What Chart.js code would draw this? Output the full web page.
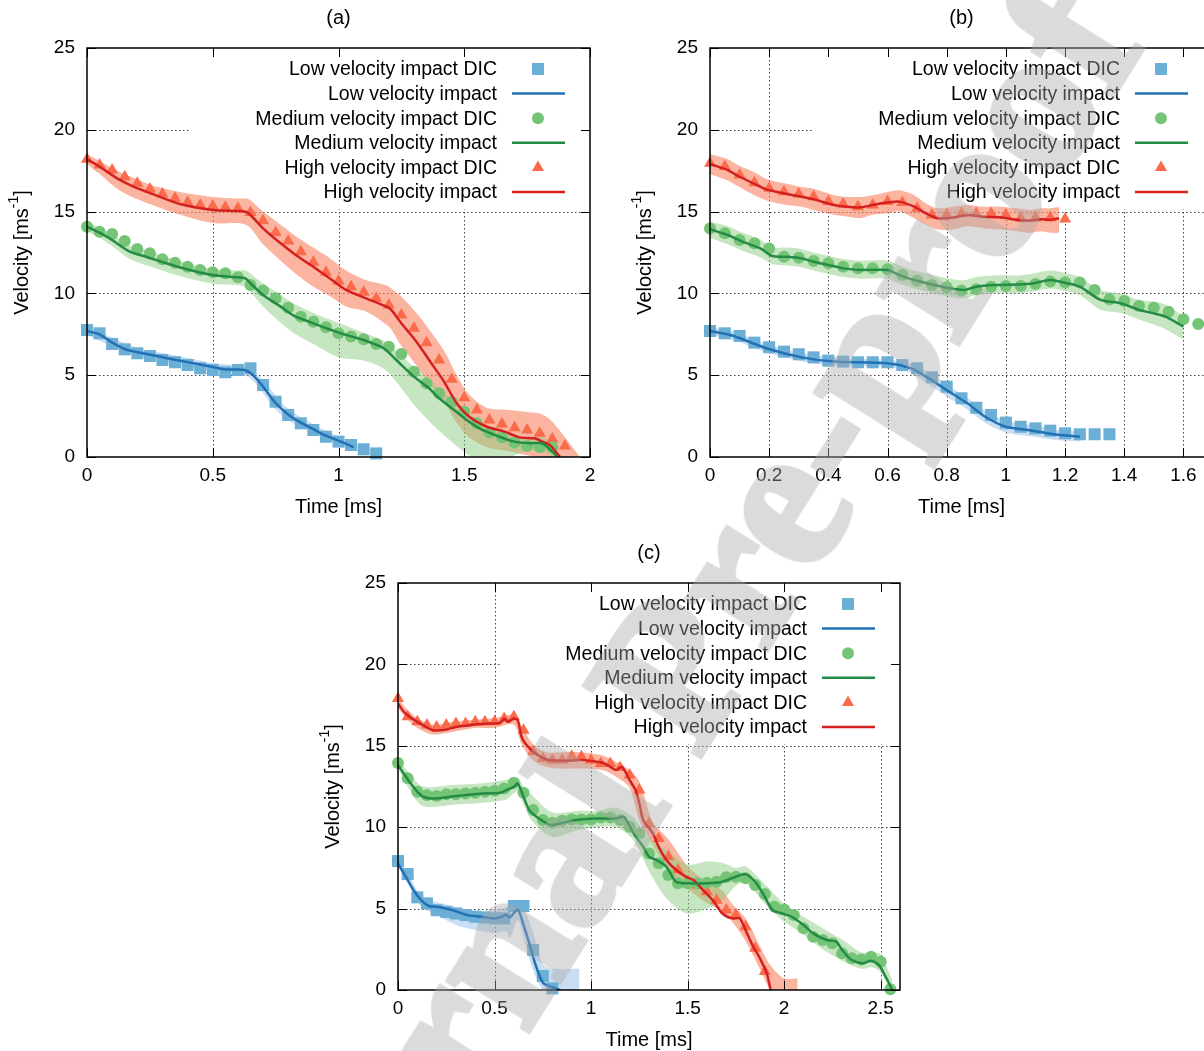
<!DOCTYPE html>
<html>
<head>
<meta charset="utf-8">
<script src="https://cdn.jsdelivr.net/npm/chart.js@4.4.1/dist/chart.umd.min.js"></script>
<style>
  html, body { margin: 0; padding: 0; background: #fff; width: 1204px; height: 1051px; overflow: hidden; }
  .panel { position: absolute; }
  #stamp {
    position: absolute; left: 669px; top: 676px;
    transform: translate(-50%, -50%) rotate(-58deg);
    font: bold 205px "Liberation Serif", "DejaVu Serif", serif;
    color: #aaa; -webkit-text-stroke: 6px #aaa; opacity: 0.42;
    white-space: nowrap; pointer-events: none;
  }
</style>
</head>
<body>
<div class="panel" style="left:0;top:0"><canvas id="chartA" width="620" height="530"></canvas></div>
<div class="panel" style="left:620px;top:0"><canvas id="chartB" width="620" height="530"></canvas></div>
<div class="panel" style="left:310px;top:535px"><canvas id="chartC" width="610" height="516"></canvas></div>
<div id="stamp">Journal Pre-proof</div>

<script>
// legend text, in key order
const seriesNames = [
  "Low velocity impact DIC", "Low velocity impact",
  "Medium velocity impact DIC", "Medium velocity impact",
  "High velocity impact DIC", "High velocity impact"
];

// ---------- panel (a) ----------
const aDicTime = [0, 0.05, 0.1, 0.15, 0.2, 0.25, 0.3, 0.35, 0.4, 0.45, 0.5, 0.55, 0.6, 0.65, 0.7, 0.75, 0.8, 0.85, 0.9, 0.95,
  1, 1.05, 1.1, 1.15, 1.2, 1.25, 1.3, 1.35, 1.4, 1.45, 1.5, 1.55, 1.6, 1.65, 1.7, 1.75, 1.8, 1.85, 1.9];
const aLowDic = [7.76, 7.56, 6.91, 6.58, 6.34, 6.17, 5.93, 5.79, 5.62, 5.42, 5.32, 5.18, 5.32, 5.42, 4.4, 3.38, 2.57, 2.06, 1.65, 1.24, 0.94, 0.73, 0.47, 0.22];
const aMedDic = [14.08, 13.77, 13.63, 13.2, 12.71, 12.45, 12.08, 11.88, 11.63, 11.43, 11.29, 11.23, 10.99, 10.51, 10.17, 9.7, 9.13, 8.58, 8.27, 7.93,
  7.56, 7.36, 7.2, 6.91, 6.74, 6.3, 5.21, 4.5, 3.89, 3.38, 2.77, 2.06, 1.49, 1.21, 0.88, 0.67, 0.59, 0.59];
const aHighDic = [18.2, 17.85, 17.54, 17.13, 16.73, 16.38, 16.08, 15.81, 15.57, 15.4, 15.34, 15.26, 15.2, 14.95, 14.44, 13.73, 13.2, 12.54, 11.9, 11.29,
  10.76, 10.41, 10.07, 9.7, 9.29, 8.68, 7.87, 6.99, 5.93, 4.75, 3.62, 2.87, 2.26, 2.02, 1.79, 1.65, 1.45, 1.1, 0.67];

const aLowT = [0, 0.05, 0.1, 0.15, 0.2, 0.3, 0.4, 0.5, 0.55, 0.6, 0.63, 0.66, 0.7, 0.75, 0.8, 0.85, 0.9, 0.95, 1.0, 1.06];
const aLowV = [7.7, 7.5, 7.0, 6.6, 6.4, 6.1, 5.8, 5.5, 5.35, 5.35, 5.3, 5.0, 4.3, 3.3, 2.6, 2.1, 1.7, 1.3, 1.0, 0.6];
const aMedT = [0, 0.05, 0.1, 0.17, 0.24, 0.36, 0.5, 0.6, 0.63, 0.65, 0.7, 0.77, 0.82, 0.9, 1.01, 1.1, 1.18, 1.23, 1.3, 1.36,
  1.4, 1.46, 1.51, 1.56, 1.64, 1.7, 1.76, 1.81, 1.85, 1.87];
const aMedV = [14.08, 13.71, 13.26, 12.55, 12.21, 11.63, 11.12, 10.98, 10.92, 10.62, 9.9, 9.19, 8.66, 8.17, 7.56, 7.15, 6.64, 5.93, 4.91, 4.2,
  3.59, 2.87, 2.26, 1.75, 1.24, 0.94, 0.84, 0.84, 0.33, 0.02];
const aHighT = [0, 0.05, 0.12, 0.18, 0.26, 0.37, 0.5, 0.6, 0.63, 0.65, 0.7, 0.77, 0.83, 0.9, 0.97, 1.03, 1.11, 1.19, 1.21, 1.25,
  1.31, 1.36, 1.42, 1.47, 1.52, 1.59, 1.66, 1.72, 1.78, 1.81, 1.84, 1.88];
const aHighV = [18.2, 17.75, 17.03, 16.56, 16.08, 15.46, 15.1, 15.04, 14.99, 14.79, 13.98, 13.06, 12.35, 11.63, 10.86, 10.21, 9.7, 9.19, 8.99, 8.17,
  7.05, 5.93, 4.6, 3.28, 2.46, 1.85, 1.55, 1.2, 1.14, 0.94, 0.73, 0.02];

// scatter bands (upper / lower edge)
const aLowBandT = [0, 0.1, 0.2, 0.3, 0.4, 0.5, 0.6, 0.65, 0.7, 0.75, 0.8, 0.9, 1.0, 1.06];
const aLowBandHi = [7.95, 7.3, 6.65, 6.35, 6.05, 5.75, 5.6, 5.4, 4.7, 3.75, 2.95, 2.0, 1.25, 0.85];
const aLowBandLo = [7.45, 6.75, 6.15, 5.85, 5.55, 5.25, 5.1, 4.8, 3.9, 2.9, 2.25, 1.45, 0.75, 0.4];
const aMedBandT = [0, 0.05, 0.1, 0.17, 0.24, 0.36, 0.5, 0.6, 0.63, 0.65, 0.7, 0.77, 0.82, 0.9, 1.0, 1.1, 1.18, 1.23, 1.3, 1.36,
  1.4, 1.46, 1.51, 1.56, 1.64, 1.7, 1.76, 1.81, 1.85, 1.87];
const aMedBandHi = [14.4, 14.0, 13.6, 12.9, 12.6, 12.0, 11.5, 11.4, 11.4, 11.2, 10.6, 9.9, 9.4, 8.8, 8.2, 7.6, 7.1, 6.5, 5.5, 4.8,
  4.2, 3.4, 2.8, 2.2, 1.6, 1.3, 1.2, 1.2, 0.8, 0.4];
const aMedBandLo = [13.8, 13.4, 12.9, 12.1, 11.7, 11.1, 10.6, 10.5, 10.4, 10.1, 9.2, 8.2, 7.6, 6.9, 6.1, 5.9, 5.4, 4.6, 3.2, 2.2,
  1.6, 0.8, 0.2, -0.3, -0.5, 0.1, 0.4, 0.4, 0.0, -0.2];
const aHighBandT = [0, 0.05, 0.12, 0.18, 0.26, 0.37, 0.5, 0.6, 0.63, 0.65, 0.7, 0.77, 0.83, 0.9, 0.97, 1.03, 1.11, 1.19, 1.21, 1.25,
  1.31, 1.36, 1.42, 1.47, 1.52, 1.59, 1.66, 1.72, 1.78, 1.81, 1.84, 1.88, 1.96];
const aHighBandHi = [18.5, 18.1, 17.5, 17.1, 16.6, 16.2, 15.9, 15.8, 15.8, 15.7, 15.0, 14.2, 13.5, 12.8, 12.1, 11.4, 10.8, 10.5, 10.3, 9.8,
  8.8, 7.8, 6.5, 5.0, 3.8, 3.0, 2.9, 2.8, 2.7, 2.6, 2.3, 1.6, 0];
const aHighBandLo = [17.9, 17.3, 16.4, 15.9, 15.4, 14.8, 14.3, 14.3, 14.2, 14.0, 13.0, 12.0, 11.2, 10.4, 9.8, 9.2, 8.9, 8.1, 7.8, 6.8,
  5.6, 4.5, 3.4, 2.1, 1.2, 0.6, 0.4, 0.2, 0, -0.2, -0.5, -0.8, -0.8];

// ---------- panel (b) ----------
const bDicTime = [0, 0.05, 0.1, 0.15, 0.2, 0.25, 0.3, 0.35, 0.4, 0.45, 0.5, 0.55, 0.6, 0.65, 0.7, 0.75, 0.8, 0.85, 0.9, 0.95,
  1, 1.05, 1.1, 1.15, 1.2, 1.25, 1.3, 1.35, 1.4, 1.45, 1.5, 1.55, 1.6, 1.65];
const bLowDic = [7.7, 7.56, 7.4, 6.99, 6.71, 6.44, 6.28, 6.09, 5.89, 5.83, 5.79, 5.79, 5.79, 5.62, 5.42, 4.87, 4.3, 3.59, 3.01, 2.57,
  2.1, 1.85, 1.75, 1.61, 1.45, 1.39, 1.39, 1.39];
const bMedDic = [13.96, 13.67, 13.26, 13.06, 12.75, 12.24, 12.18, 11.98, 11.84, 11.63, 11.53, 11.53, 11.47, 11.12, 10.78, 10.51, 10.37, 10.17, 10.25, 10.41,
  10.45, 10.45, 10.57, 10.72, 10.66, 10.66, 10.21, 9.64, 9.54, 9.23, 9.13, 8.88, 8.42, 8.13];
const bHighDic = [17.95, 17.75, 17.24, 16.77, 16.42, 16.22, 16.08, 15.91, 15.61, 15.46, 15.3, 15.4, 15.61, 15.55, 15.2, 14.79, 14.79, 14.89, 14.89, 14.89,
  14.79, 14.59, 14.63, 14.63, 14.55];

const bLowT = [0, 0.08, 0.19, 0.31, 0.42, 0.6, 0.68, 0.73, 0.8, 0.87, 0.93, 1.0, 1.09, 1.16, 1.25];
const bLowV = [7.7, 7.4, 6.65, 6.09, 5.83, 5.73, 5.42, 4.91, 4.09, 3.28, 2.46, 1.85, 1.61, 1.39, 1.24];
const bMedT = [0, 0.06, 0.11, 0.17, 0.21, 0.26, 0.31, 0.35, 0.4, 0.45, 0.51, 0.6, 0.64, 0.69, 0.76, 0.81, 0.86, 0.9, 0.96, 1.04,
  1.09, 1.15, 1.21, 1.25, 1.32, 1.39, 1.45, 1.5, 1.54, 1.6];
const bMedV = [13.92, 13.57, 13.16, 12.75, 12.29, 12.24, 12.14, 11.94, 11.74, 11.53, 11.43, 11.43, 11.12, 10.82, 10.51, 10.31, 10.21, 10.41, 10.51, 10.55,
  10.61, 10.82, 10.61, 10.41, 9.6, 9.39, 8.99, 8.78, 8.58, 7.97];
const bHighT = [0, 0.06, 0.1, 0.15, 0.19, 0.26, 0.31, 0.35, 0.42, 0.46, 0.51, 0.55, 0.6, 0.64, 0.69, 0.73, 0.77, 0.82, 0.87, 0.92,
  0.98, 1.04, 1.08, 1.12, 1.15, 1.18];
const bHighV = [17.91, 17.54, 17.13, 16.69, 16.36, 16.08, 15.91, 15.75, 15.4, 15.3, 15.26, 15.4, 15.55, 15.61, 15.3, 14.89, 14.59, 14.63, 14.79, 14.69,
  14.65, 14.49, 14.45, 14.53, 14.49, 14.59];

const bLowBandT = bLowT;
const bLowBandHi = [7.95, 7.65, 6.9, 6.35, 6.05, 5.95, 5.7, 5.25, 4.45, 3.6, 2.85, 2.2, 1.95, 1.7, 1.55];
const bLowBandLo = [7.45, 7.15, 6.4, 5.85, 5.6, 5.5, 5.15, 4.55, 3.7, 2.9, 2.1, 1.5, 1.25, 1.05, 0.95];
const bMedBandT = bMedT;
const bMedBandHi = [14.4, 14.1, 13.7, 13.3, 12.8, 12.8, 12.7, 12.5, 12.3, 12.1, 12.0, 12.0, 11.7, 11.4, 11.1, 10.9, 10.8, 11.0, 11.1, 11.1,
  11.2, 11.4, 11.2, 11.0, 10.2, 10.0, 9.6, 9.5, 9.3, 8.6];
const bMedBandLo = [13.4, 13.0, 12.6, 12.2, 11.8, 11.7, 11.6, 11.4, 11.2, 11.0, 10.9, 10.9, 10.6, 10.3, 10.0, 9.8, 9.7, 9.9, 10.0, 10.0,
  10.1, 10.3, 10.1, 9.9, 9.0, 8.8, 8.4, 8.1, 7.8, 7.2];
const bHighBandT = bHighT;
const bHighBandHi = [18.5, 18.2, 17.8, 17.4, 17.0, 16.7, 16.5, 16.4, 16.0, 15.9, 15.9, 16.0, 16.2, 16.3, 16.0, 15.5, 15.2, 15.3, 15.4, 15.3,
  15.3, 15.2, 15.1, 15.2, 15.2, 15.3];
const bHighBandLo = [17.3, 16.9, 16.5, 16.0, 15.7, 15.4, 15.3, 15.1, 14.8, 14.7, 14.6, 14.8, 14.9, 15.0, 14.6, 14.2, 13.9, 13.9, 14.1, 14.0,
  13.9, 13.8, 13.7, 13.8, 13.7, 13.7];

// ---------- panel (c) ----------
const cDicTime = [0, 0.05, 0.1, 0.15, 0.2, 0.25, 0.3, 0.35, 0.4, 0.45, 0.5, 0.55, 0.6, 0.65, 0.7, 0.75, 0.8, 0.85, 0.9, 0.95,
  1, 1.05, 1.1, 1.15, 1.2, 1.25, 1.3, 1.35, 1.4, 1.45, 1.5, 1.55, 1.6, 1.65, 1.7, 1.75, 1.8, 1.85, 1.9, 1.95,
  2, 2.05, 2.1, 2.15, 2.2, 2.25, 2.3, 2.35, 2.4, 2.45, 2.5, 2.55];
const cLowDic = [7.92, 7.12, 5.69, 5.32, 4.9, 4.8, 4.7, 4.6, 4.5, 4.45, 4.4, 4.4, 5.16, 5.16, 2.46, 0.86, 0.1];
const cMedDic = [13.95, 13.0, 12.18, 11.97, 11.91, 12.03, 12.03, 12.07, 12.11, 12.18, 12.24, 12.38, 12.73, 12.11, 11.05, 10.44, 10.27, 10.39, 10.48, 10.48,
  10.48, 10.6, 10.6, 10.44, 10.03, 9.62, 8.39, 7.78, 7.06, 6.55, 6.55, 6.55, 6.59, 6.65, 6.92, 6.96, 6.86, 6.45, 5.89, 5.11,
  4.95, 4.6, 3.79, 3.27, 3.07, 2.87, 2.25, 1.95, 1.88, 2.05, 1.74, 0.04];
const cHighDic = [17.9, 16.78, 16.47, 16.27, 16.16, 16.27, 16.37, 16.37, 16.47, 16.47, 16.47, 16.68, 16.78, 15.96, 14.63, 14.22, 14.12, 14.12, 14.36, 14.32,
  14.12, 13.92, 13.92, 13.67, 13.2, 12.28, 10.23, 9.31, 8.18, 7.37, 6.65, 6.45, 6.04, 5.52, 4.91, 4.6, 3.89, 2.56, 1.13];

const cLowT = [0, 0.04, 0.08, 0.12, 0.16, 0.2, 0.28, 0.36, 0.43, 0.49, 0.53, 0.56, 0.58, 0.62, 0.65, 0.68, 0.71, 0.75, 0.79, 0.84];
const cLowV = [7.78, 6.96, 6.14, 5.52, 5.16, 5.11, 4.91, 4.6, 4.5, 4.4, 4.46, 4.6, 4.46, 4.95, 3.99, 2.87, 1.64, 0.45, 0.2, 0];
const cMedT = [0, 0.03, 0.06, 0.1, 0.13, 0.18, 0.3, 0.44, 0.53, 0.56, 0.6, 0.62, 0.65, 0.68, 0.73, 0.79, 0.84, 0.92, 1.03, 1.13,
  1.17, 1.22, 1.27, 1.3, 1.34, 1.39, 1.44, 1.51, 1.6, 1.68, 1.75, 1.8, 1.85, 1.89, 1.94, 1.99, 2.04, 2.1, 2.15, 2.22,
  2.27, 2.3, 2.35, 2.41, 2.45, 2.49, 2.53, 2.56];
const cMedV = [13.81, 13.29, 12.77, 12.18, 11.87, 11.76, 11.91, 12.07, 12.11, 12.28, 12.48, 12.69, 11.87, 11.05, 10.53, 10.13, 10.23, 10.44, 10.53, 10.53,
  10.64, 9.62, 8.8, 8.19, 7.98, 7.57, 6.65, 6.55, 6.55, 6.65, 6.96, 7.12, 6.65, 5.93, 4.91, 4.7, 4.5, 3.99, 3.48, 3.07,
  2.97, 2.46, 1.84, 1.64, 1.8, 1.54, 0.72, 0.0];
const cHighT = [0, 0.03, 0.06, 0.1, 0.13, 0.18, 0.25, 0.3, 0.41, 0.47, 0.53, 0.55, 0.57, 0.6, 0.62, 0.64, 0.66, 0.7, 0.77, 0.85,
  0.96, 1.06, 1.1, 1.13, 1.16, 1.2, 1.23, 1.25, 1.27, 1.32, 1.35, 1.39, 1.44, 1.49, 1.53, 1.58, 1.63, 1.68, 1.73, 1.77,
  1.8, 1.84, 1.87, 1.91, 1.93];
const cHighV = [17.6, 17.09, 16.78, 16.47, 16.27, 15.96, 16.0, 16.16, 16.33, 16.37, 16.41, 16.68, 16.47, 16.68, 16.58, 15.55, 15.14, 14.63, 14.16, 14.08,
  14.12, 13.96, 13.71, 13.51, 13.71, 12.89, 12.28, 11.46, 10.44, 9.62, 8.8, 7.98, 7.37, 6.96, 6.75, 6.14, 5.52, 4.7, 4.4, 4.4,
  3.68, 2.66, 2.05, 1.02, 0];

const cLowBandT = [0, 0.05, 0.1, 0.15, 0.2, 0.3, 0.4, 0.5, 0.56, 0.58, 0.62, 0.66, 0.7, 0.75, 0.8, 0.94];
const cLowBandHi = [8.0, 7.2, 6.1, 5.5, 5.4, 5.1, 4.9, 4.9, 5.1, 5.2, 5.5, 4.8, 3.5, 1.6, 1.3, 1.3];
const cLowBandLo = [7.6, 6.6, 5.4, 4.9, 4.6, 4.0, 3.7, 3.5, 3.6, 3.2, 4.3, 2.8, 1.2, 0, -0.5, -0.5];
const cMedBandT = [0, 0.06, 0.13, 0.3, 0.44, 0.56, 0.62, 0.65, 0.7, 0.8, 0.92, 1.03, 1.13, 1.22, 1.3, 1.4, 1.5, 1.6, 1.68, 1.75,
  1.8, 1.9, 2.0, 2.1, 2.2, 2.3, 2.4, 2.45, 2.5, 2.56];
const cMedBandHi = [14.2, 13.3, 12.5, 12.6, 12.7, 12.9, 13.0, 12.5, 11.9, 10.9, 11.0, 11.0, 11.2, 10.6, 9.3, 8.5, 7.7, 7.9, 7.8, 7.5,
  7.6, 6.5, 5.3, 4.5, 3.8, 3.1, 2.3, 2.3, 2.2, 0.6];
const cMedBandLo = [13.6, 12.3, 11.3, 11.4, 11.5, 11.7, 12.2, 11.4, 10.3, 9.4, 9.8, 10.0, 10.0, 9.2, 7.3, 5.5, 4.7, 5.0, 5.5, 6.4,
  6.6, 5.3, 4.2, 3.4, 2.5, 1.8, 1.3, 1.4, 1.1, -0.5];
const cHighBandT = [0, 0.05, 0.1, 0.18, 0.3, 0.4, 0.5, 0.6, 0.64, 0.7, 0.77, 0.85, 0.95, 1.06, 1.13, 1.2, 1.25, 1.32, 1.39, 1.44,
  1.5, 1.58, 1.68, 1.73, 1.8, 1.87, 1.93, 2.0, 2.07];
const cHighBandHi = [17.9, 17.2, 16.7, 16.3, 16.5, 16.6, 16.7, 16.9, 16.2, 15.1, 14.6, 14.6, 14.6, 14.4, 14.0, 13.5, 12.8, 10.3, 9.4, 8.6,
  7.6, 6.8, 6.1, 5.3, 4.4, 2.8, 1.5, 0.7, 0.7];
const cHighBandLo = [17.3, 16.6, 16.1, 15.7, 15.9, 16.1, 16.1, 16.3, 15.1, 14.1, 13.7, 13.6, 13.6, 13.5, 13.1, 12.4, 10.4, 8.9, 7.5, 6.6,
  6.2, 5.5, 4.8, 4.2, 3.0, 1.4, 0, -0.5, -0.5];

// ---------- styles ----------
const FAMILY = '"Liberation Sans", Arial, sans-serif';
const KEY_FONT = "19.5px " + FAMILY;
const TITLE_FONT = "20px " + FAMILY;
const SMALL_FONT = "14px " + FAMILY;
const STYLE = {
  low:  { dot: "#6baed6", line: "#2171b5", band: "rgba(120,170,225,0.4)", shape: "rect", r: 8.5 },
  med:  { dot: "#74c476", line: "#238b45", band: "rgba(140,205,130,0.5)", shape: "circle", r: 6 },
  high: { dot: "#fb6a4a", line: "#d42020", band: "rgba(248,130,95,0.6)", shape: "triangle", r: 7 }
};
const KEYS = ["low", "med", "high"];

function pts(t, v) {
  return v.map((y, i) => ({ x: t[i], y: y }));
}

// band (upper+lower), DIC markers, model line for one impact case
function seriesSets(key, s, dicTime) {
  const c = STYLE[key];
  return [
    { data: pts(s.bandT, s.hi), fill: "+1", backgroundColor: c.band, borderColor: "transparent", borderWidth: 0, pointRadius: 0, tension: 0.3, order: 3 },
    { data: pts(s.bandT, s.lo), fill: false, borderColor: "transparent", borderWidth: 0, pointRadius: 0, tension: 0.3, order: 3 },
    { data: pts(dicTime, s.dic), showLine: false, pointStyle: c.shape, pointRadius: c.r, pointBackgroundColor: c.dot,
      pointBorderColor: c.dot, pointBorderWidth: 0, clip: false, order: 2 },
    { data: pts(s.t, s.v), borderColor: c.line, borderWidth: 2.5, pointRadius: 0, tension: 0.25, fill: false, order: 1 }
  ];
}

function drawMark(ctx, shape, x, y, color) {
  ctx.fillStyle = color;
  ctx.beginPath();
  if (shape === "rect") ctx.rect(x - 6, y - 6, 12, 12);
  else if (shape === "circle") ctx.arc(x, y, 6, 0, Math.PI * 2);
  else { ctx.moveTo(x, y - 7); ctx.lineTo(x + 6.1, y + 3.5); ctx.lineTo(x - 6.1, y + 3.5); ctx.closePath(); }
  ctx.fill();
}

// grid, opaque key, frame with inward ticks, titles
function decoPlugin(tag) {
  return {
    id: "deco",
    beforeDatasetsDraw(chart) {
      const { ctx, chartArea: a, scales } = chart;
      ctx.save();
      ctx.strokeStyle = "#444";
      ctx.lineWidth = 1;
      ctx.setLineDash([1.5, 2.5]);
      scales.x.ticks.forEach(tk => {
        const px = Math.round(scales.x.getPixelForValue(tk.value)) + 0.5;
        if (px < a.left + 2 || px > a.right - 2) return;
        ctx.beginPath(); ctx.moveTo(px, a.top); ctx.lineTo(px, a.bottom); ctx.stroke();
      });
      scales.y.ticks.forEach(tk => {
        const py = Math.round(scales.y.getPixelForValue(tk.value)) + 0.5;
        if (py < a.top + 2 || py > a.bottom - 2) return;
        ctx.beginPath(); ctx.moveTo(a.left, py); ctx.lineTo(a.right, py); ctx.stroke();
      });
      ctx.restore();
      // key area hides the grid
      ctx.fillStyle = "#fff";
      ctx.fillRect(a.right - 400, a.top + 1, 399, 160);
    },
    afterDatasetsDraw(chart) {
      const { ctx, chartArea: a, scales } = chart;
      ctx.save();
      ctx.strokeStyle = "#000";
      ctx.lineWidth = 1.5;
      ctx.strokeRect(a.left, a.top, a.right - a.left, a.bottom - a.top);
      ctx.lineWidth = 1;
      ctx.beginPath();
      scales.x.ticks.forEach(tk => {
        const px = Math.round(scales.x.getPixelForValue(tk.value)) + 0.5;
        ctx.moveTo(px, a.bottom); ctx.lineTo(px, a.bottom - 9);
        ctx.moveTo(px, a.top); ctx.lineTo(px, a.top + 9);
      });
      scales.y.ticks.forEach(tk => {
        const py = Math.round(scales.y.getPixelForValue(tk.value)) + 0.5;
        ctx.moveTo(a.left, py); ctx.lineTo(a.left + 9, py);
        ctx.moveTo(a.right, py); ctx.lineTo(a.right - 9, py);
      });
      ctx.stroke();

      // key
      ctx.font = KEY_FONT;
      ctx.textBaseline = "middle";
      seriesNames.forEach((name, i) => {
        const yy = a.top + 22 + i * 24.6;
        const st = STYLE[KEYS[Math.floor(i / 2)]];
        ctx.fillStyle = "#000";
        ctx.textAlign = "right";
        ctx.fillText(name, a.right - 93, yy);
        if (i % 2 === 0) {
          drawMark(ctx, st.shape, a.right - 52, yy - 1, st.dot);
        } else {
          ctx.strokeStyle = st.line;
          ctx.lineWidth = 2.5;
          ctx.beginPath(); ctx.moveTo(a.right - 78, yy - 1); ctx.lineTo(a.right - 25, yy - 1); ctx.stroke();
        }
      });

      // titles
      const cx = (a.left + a.right) / 2;
      ctx.font = TITLE_FONT;
      ctx.fillStyle = "#000";
      ctx.textAlign = "center";
      ctx.fillText(tag, cx, a.top - 30);
      ctx.fillText("Time [ms]", cx, a.bottom + 50);

      // y title with superscript
      ctx.translate(a.left - 65, (a.top + a.bottom) / 2);
      ctx.rotate(-Math.PI / 2);
      ctx.textAlign = "left";
      const w1 = ctx.measureText("Velocity [ms").width;
      const w3 = ctx.measureText("]").width;
      ctx.font = SMALL_FONT;
      const w2 = ctx.measureText("-1").width;
      const x0 = -(w1 + w2 + w3) / 2;
      ctx.fillText("-1", x0 + w1, -8);
      ctx.font = TITLE_FONT;
      ctx.fillText("Velocity [ms", x0, 0);
      ctx.fillText("]", x0 + w1 + w2, 0);
      ctx.restore();
    }
  };
}

function makePanel(id, p) {
  const datasets = [];
  KEYS.forEach(k => datasets.push(...seriesSets(k, p[k], p.dicTime)));
  const tickFont = { family: FAMILY, size: 19 };
  new Chart(document.getElementById(id), {
    type: "line",
    data: { datasets },
    options: {
      responsive: false,
      animation: false,
      devicePixelRatio: 1,
      layout: { padding: p.pad },
      plugins: { legend: { display: false }, tooltip: { enabled: false } },
      scales: {
        x: {
          type: "linear", min: 0, max: p.xMax,
          grid: { display: false, drawTicks: false }, border: { display: false },
          ticks: { stepSize: p.xStep, includeBounds: false, autoSkip: false, maxRotation: 0, padding: 7,
                   color: "#000", font: tickFont, callback: v => String(+v.toFixed(2)) },
          afterFit(s) { s.height = p.xH; }
        },
        y: {
          min: 0, max: 25,
          grid: { display: false, drawTicks: false }, border: { display: false },
          ticks: { stepSize: 5, padding: 12, color: "#000", font: tickFont },
          afterFit(s) { s.width = p.yW; }
        }
      }
    },
    plugins: [decoPlugin(p.tag)]
  });
}

makePanel("chartA", {
  tag: "(a)", pad: { top: 48, right: 30, left: 0, bottom: 0 }, yW: 87, xH: 73, xMax: 2, xStep: 0.5, dicTime: aDicTime,
  low:  { dic: aLowDic, t: aLowT, v: aLowV, bandT: aLowBandT, hi: aLowBandHi, lo: aLowBandLo },
  med:  { dic: aMedDic, t: aMedT, v: aMedV, bandT: aMedBandT, hi: aMedBandHi, lo: aMedBandLo },
  high: { dic: aHighDic, t: aHighT, v: aHighV, bandT: aHighBandT, hi: aHighBandHi, lo: aHighBandLo }
});

makePanel("chartB", {
  tag: "(b)", pad: { top: 48, right: 27, left: 0, bottom: 0 }, yW: 90, xH: 73, xMax: 1.7, xStep: 0.2, dicTime: bDicTime,
  low:  { dic: bLowDic, t: bLowT, v: bLowV, bandT: bLowBandT, hi: bLowBandHi, lo: bLowBandLo },
  med:  { dic: bMedDic, t: bMedT, v: bMedV, bandT: bMedBandT, hi: bMedBandHi, lo: bMedBandLo },
  high: { dic: bHighDic, t: bHighT, v: bHighV, bandT: bHighBandT, hi: bHighBandHi, lo: bHighBandLo }
});

makePanel("chartC", {
  tag: "(c)", pad: { top: 48, right: 20, left: 0, bottom: 0 }, yW: 88, xH: 61, xMax: 2.6, xStep: 0.5, dicTime: cDicTime,
  low:  { dic: cLowDic, t: cLowT, v: cLowV, bandT: cLowBandT, hi: cLowBandHi, lo: cLowBandLo },
  med:  { dic: cMedDic, t: cMedT, v: cMedV, bandT: cMedBandT, hi: cMedBandHi, lo: cMedBandLo },
  high: { dic: cHighDic, t: cHighT, v: cHighV, bandT: cHighBandT, hi: cHighBandHi, lo: cHighBandLo }
});
</script>
</body>
</html>
